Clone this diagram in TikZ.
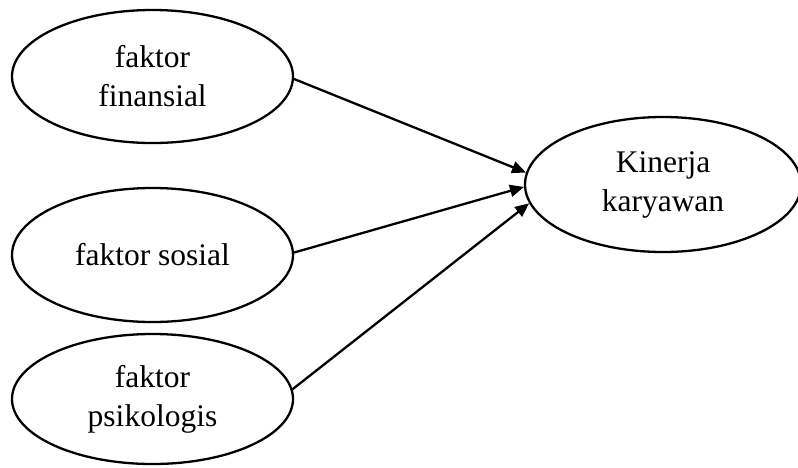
\documentclass[tikz,border=0pt]{standalone}
\usepackage{fontspec}
\setmainfont{Liberation Serif}
\usetikzlibrary{shapes.geometric,arrows.meta}
\begin{document}
\begin{tikzpicture}[x=1pt,y=-1pt,
  oval/.style={ellipse, draw, line width=2.3pt, inner sep=0pt, align=center,
    font=\fontsize{31.5}{39}\selectfont},
  link/.style={line width=2.3pt, -{Triangle[length=14pt,width=12pt]}}]
\useasboundingbox (0,0) rectangle (798,467);
\node[oval, minimum width=281pt, minimum height=133pt] (fin) at (152.5,76.5) {faktor\\finansial};
\node[oval, minimum width=281pt, minimum height=134pt] (sos) at (152.5,255) {faktor sosial};
\node[oval, minimum width=281pt, minimum height=130pt] (psi) at (152.5,399) {faktor\\psikologis};
\node[oval, minimum width=276pt, minimum height=135pt] (kin) at (663,184.5) {Kinerja\\karyawan};
\draw[link] (fin.359) -- (kin.175);
\draw[link] (sos.1) -- (kin.181);
\draw[link] (psi.4) -- (kin.188);
\end{tikzpicture}
\end{document}
